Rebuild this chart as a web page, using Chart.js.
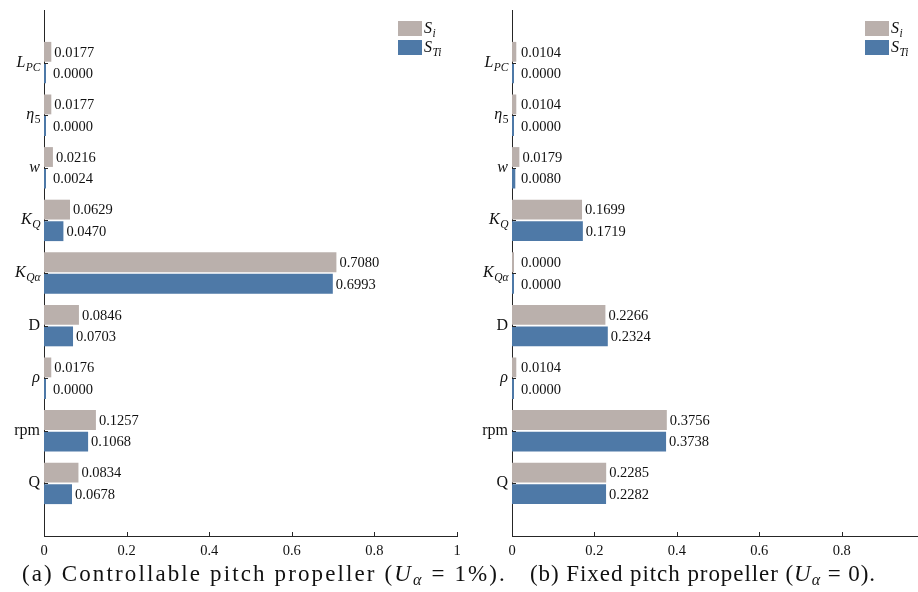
<!DOCTYPE html>
<html><head><meta charset="utf-8">
<script src="https://cdn.jsdelivr.net/npm/chart.js@4.4.0/dist/chart.umd.min.js"></script>
<style>
html,body{margin:0;padding:0;background:#fff;width:918px;height:592px;overflow:hidden;position:relative}
canvas{position:absolute;top:0}
.cap{position:absolute;font-family:"Liberation Serif","Times New Roman",serif;font-size:21px;line-height:21px;color:#111;white-space:nowrap;top:566px}
.cap sub{font-size:0.7em;line-height:0;vertical-align:-0.22em}
</style></head><body>
<canvas id="c1" width="470" height="592" style="left:0"></canvas>
<canvas id="c2" width="458" height="592" style="left:460px"></canvas>
<div class="cap" id="capA" data-w="485" data-c="264.5">(a) Controllable pitch propeller (<i>U</i><sub><i>α</i></sub> = 1%).</div>
<div class="cap" id="capB" data-w="346" data-c="703">(b) Fixed pitch propeller (<i>U</i><sub><i>α</i></sub> = 0).</div>
<script>
// ---------- data ----------
const categories = ['L_PC', 'η_5', 'w', 'K_Q', 'K_Qα', 'D', 'ρ', 'rpm', 'Q'];
const uprightLabels = ['D', 'rpm', 'Q'];
const seriesNames = ['S_i', 'S_Ti'];
const cppFirstOrder = [0.0177, 0.0177, 0.0216, 0.0629, 0.7080, 0.0846, 0.0176, 0.1257, 0.0834];
const cppTotal      = [0.0000, 0.0000, 0.0024, 0.0470, 0.6993, 0.0703, 0.0000, 0.1068, 0.0678];
const fppFirstOrder = [0.0104, 0.0104, 0.0179, 0.1699, 0.0000, 0.2266, 0.0104, 0.3756, 0.2285];
const fppTotal      = [0.0000, 0.0000, 0.0080, 0.1719, 0.0000, 0.2324, 0.0000, 0.3738, 0.2282];
const xTicksA = [0, 0.2, 0.4, 0.6, 0.8, 1];
const xTicksB = [0, 0.2, 0.4, 0.6, 0.8];

// ---------- style ----------
const serif = '"Liberation Serif", "Times New Roman", serif';
const axisColor = '#262626';
const textColor = '#111111';
const colors = ['#BAB0AC', '#4E79A7'];

function parseLabel(label) {
  if (uprightLabels.includes(label)) return [{text: label, italic: false, sub: false}];
  const p = label.split('_');
  const parts = [{text: p[0], italic: true, sub: false}];
  if (p[1]) parts.push({text: p[1], italic: !/^\d+$/.test(p[1]), sub: true});
  return parts;
}
function drawRich(ctx, parts, x, baseY, size, align) {
  const subSize = size * 0.72;
  const fontOf = p => `${p.italic ? 'italic ' : ''}${p.sub ? subSize : size}px ${serif}`;
  let total = 0;
  const widths = parts.map(p => { ctx.font = fontOf(p); const w = ctx.measureText(p.text).width; total += w; return w; });
  let cx = align === 'right' ? x - total : x;
  ctx.textAlign = 'left';
  ctx.textBaseline = 'alphabetic';
  parts.forEach((p, i) => {
    ctx.font = fontOf(p);
    ctx.fillText(p.text, cx, baseY + (p.sub ? size * 0.25 : 0));
    cx += widths[i] + (p.sub ? 0 : (p.italic ? 0.5 : 0));
  });
}

const decor = {
  id: 'decor',
  afterDatasetsDraw(chart, args, opts) {
    const ctx = chart.ctx, ca = chart.chartArea;
    const xs = chart.scales.x, ys = chart.scales.y;
    const n = categories.length;
    ctx.save();
    // inward tick marks
    ctx.strokeStyle = axisColor; ctx.lineWidth = 1;
    ctx.beginPath();
    xs.ticks.forEach(t => {
      const px = Math.round(xs.getPixelForValue(t.value)) + 0.5;
      if (px > ca.left + 2) { ctx.moveTo(px, ca.bottom); ctx.lineTo(px, ca.bottom - 4); }
    });
    categories.forEach((c, i) => {
      const py = Math.round(ys.getPixelForValue(n - i)) + 0.5;
      ctx.moveTo(ca.left, py); ctx.lineTo(ca.left + 4, py);
    });
    ctx.stroke();
    // category labels
    ctx.fillStyle = textColor;
    categories.forEach((c, i) => {
      const py = ys.getPixelForValue(n - i);
      drawRich(ctx, parseLabel(c), ca.left - 4, py + 4, 16, 'right');
    });
    // value labels
    ctx.font = `14.5px ${serif}`; ctx.textAlign = 'left'; ctx.textBaseline = 'middle';
    chart.data.datasets.forEach((ds, di) => {
      const meta = chart.getDatasetMeta(di);
      meta.data.forEach((el, i) => {
        const v = ds.data[i].x;
        const x = Math.max(el.x + 3, ca.left + 9);
        ctx.fillText(v.toFixed(4), x, el.y + 1);
      });
    });
    // legend
    chart.data.datasets.forEach((ds, di) => {
      const bx = opts.legendX, by = ca.top + 11 + di * 19;
      ctx.fillStyle = ds.backgroundColor;
      ctx.fillRect(bx, by, 24, 15);
      ctx.fillStyle = textColor;
      drawRich(ctx, parseLabel(seriesNames[di]), bx + 26, by + 12, 16, 'left');
    });
    ctx.restore();
  }
};

function makeChart(id, first, total, xTicks, xMax, legendX, padLeft, padRight) {
  const n = categories.length;
  const toPts = arr => arr.map((v, i) => ({x: v, y: n - i}));
  return new Chart(document.getElementById(id), {
    type: 'bar',
    data: {
      datasets: [
        {label: seriesNames[0], data: toPts(first), backgroundColor: colors[0]},
        {label: seriesNames[1], data: toPts(total), backgroundColor: colors[1]}
      ]
    },
    options: {
      indexAxis: 'y',
      responsive: false,
      animation: false,
      devicePixelRatio: 1,
      layout: {padding: {left: padLeft, top: 10, right: padRight, bottom: 0}},
      datasets: {bar: {categoryPercentage: 0.82, barPercentage: 0.92, minBarLength: 2, grouped: true}},
      plugins: {legend: {display: false}, tooltip: {enabled: false}, decor: {legendX: legendX}},
      scales: {
        x: {
          type: 'linear', min: 0, max: xMax,
          afterBuildTicks: s => { s.ticks = xTicks.map(v => ({value: v})); },
          afterFit: s => { s.height = 56; },
          grid: {display: false, drawTicks: false},
          border: {display: true, color: axisColor, width: 1},
          ticks: {font: {family: serif, size: 14.5}, color: textColor, padding: 6, maxRotation: 0, autoSkip: false,
                  callback: v => String(+Number(v).toFixed(2))}
        },
        y: {
          type: 'linear', min: 0, max: n + 1, offset: false,
          ticks: {display: false, stepSize: 1},
          afterFit: s => { s.width = 0; },
          grid: {display: false, drawTicks: false, offset: false},
          border: {display: true, color: axisColor, width: 1}
        }
      }
    },
    plugins: [decor]
  });
}

makeChart('c1', cppFirstOrder, cppTotal, xTicksA, 1, 398, 44, 13);
makeChart('c2', fppFirstOrder, fppTotal, xTicksB, 0.985, 405, 52, 0);

// fit captions to reference widths (font size capped, rest by letter spacing)
document.querySelectorAll('.cap').forEach(el => {
  const target = +el.dataset.w;
  const w0 = el.getBoundingClientRect().width;
  const fs = Math.min(23, 21 * target / w0);
  el.style.fontSize = fs + 'px';
  el.style.lineHeight = fs + 'px';
  el.style.top = (582 - fs * 0.86) + 'px';
  const w1 = el.getBoundingClientRect().width;
  const chars = el.textContent.length;
  el.style.letterSpacing = Math.max(0, (target - w1) / chars) + 'px';
  const w2 = el.getBoundingClientRect().width;
  el.style.left = (+el.dataset.c - w2 / 2) + 'px';
});
</script>
</body></html>
